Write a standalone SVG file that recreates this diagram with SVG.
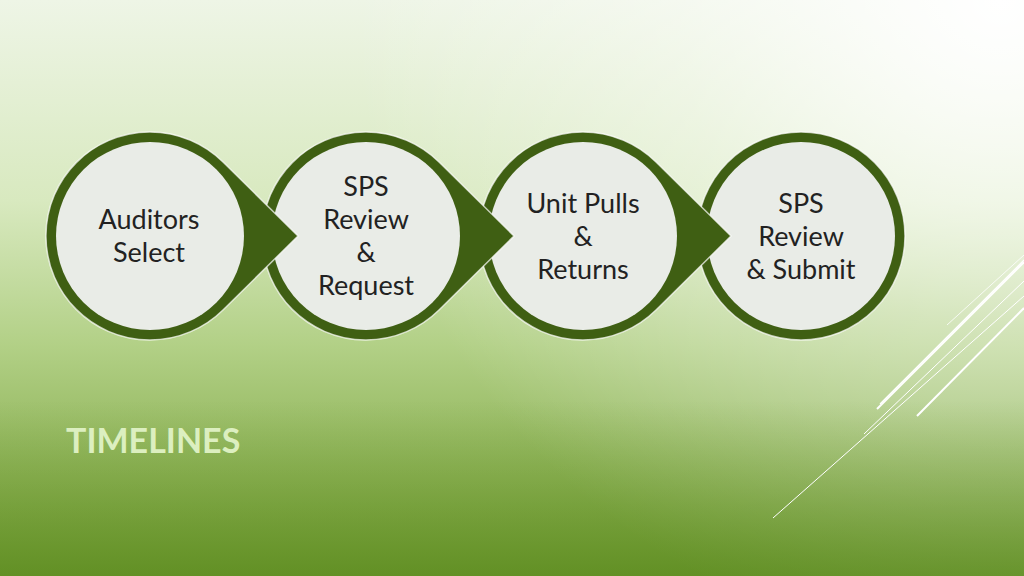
<svg xmlns="http://www.w3.org/2000/svg" width="1024" height="576" viewBox="0 0 1024 576">
<defs>
<linearGradient id="bg" x1="0" y1="0" x2="0" y2="1">
<stop offset="0" stop-color="#eef5e6"/>
<stop offset="0.35" stop-color="#d8e9bf"/>
<stop offset="0.6" stop-color="#b2d086"/>
<stop offset="1" stop-color="#6f9a30"/>
</linearGradient>
<radialGradient id="hl" cx="1000" cy="0" r="650" gradientUnits="userSpaceOnUse">
<stop offset="0" stop-color="#ffffff" stop-opacity="1"/>
<stop offset="0.5" stop-color="#ffffff" stop-opacity="0.4"/>
<stop offset="1" stop-color="#ffffff" stop-opacity="0"/>
</radialGradient>
<linearGradient id="bot" x1="0" y1="0" x2="0" y2="1">
<stop offset="0" stop-color="#6f9a30" stop-opacity="0"/>
<stop offset="1" stop-color="#5a8a1e" stop-opacity="0.6"/>
</linearGradient>
</defs>
<style>
.outer{fill:#3f5f13;stroke:#ffffff;stroke-width:1.5;stroke-opacity:0.7}
.inner{fill:#e9ece7}
.t{font-family:"Lato","Liberation Sans",sans-serif;font-size:27px;fill:#222;text-anchor:middle}
.ln{stroke:#ffffff;fill:none}
</style>
<rect width="1024" height="576" fill="url(#bg)"/>
<rect width="1024" height="576" fill="url(#hl)"/>
<rect y="400" width="1024" height="176" fill="url(#bot)"/>
<g id="deco">
<line class="ln" x1="773" y1="518" x2="1024" y2="296" stroke-width="1" stroke="#eef8d0"/>
<line class="ln" x1="877" y1="409" x2="1024" y2="262" stroke-width="2"/>
<line class="ln" x1="880" y1="404" x2="1024" y2="260" stroke-width="1.2"/>
<line class="ln" x1="864" y1="434" x2="1024" y2="281" stroke-width="1"/>
<line class="ln" x1="917" y1="416" x2="1024" y2="308" stroke-width="2"/>
<line class="ln" x1="947" y1="325" x2="1024" y2="255" stroke-width="0.8"/>
</g>
<g id="connectors"></g>
<g id="node4">
<circle class="outer" cx="801" cy="236" r="104"/>
<circle class="inner" cx="801" cy="236" r="94"/>
<text class="t" x="801" y="213">SPS</text>
<text class="t" x="801" y="246">Review</text>
<text class="t" x="801" y="279">&amp; Submit</text>
</g>
<g id="node3">
<path class="outer" d="M656,162 L731,236 L656,310 A104,104 0 1 1 656,162 Z"/>
<circle class="inner" cx="583" cy="236" r="94"/>
<text class="t" x="583" y="213">Unit Pulls</text>
<text class="t" x="583" y="246">&amp;</text>
<text class="t" x="583" y="279">Returns</text>
</g>
<g id="node2">
<path class="outer" d="M439,162 L514,236 L439,310 A104,104 0 1 1 439,162 Z"/>
<circle class="inner" cx="366" cy="236" r="94"/>
<text class="t" x="366" y="196">SPS</text>
<text class="t" x="366" y="229">Review</text>
<text class="t" x="366" y="262">&amp;</text>
<text class="t" x="366" y="295">Request</text>
</g>
<g id="node1">
<path class="outer" d="M223,162 L298,236 L223,310 A104,104 0 1 1 223,162 Z"/>
<circle class="inner" cx="150" cy="236" r="94"/>
<text class="t" x="149" y="229">Auditors</text>
<text class="t" x="149" y="262">Select</text>
</g>
<text x="66" y="453" font-family="Lato,'Liberation Sans',sans-serif" font-weight="bold" font-size="34" fill="#dcefc0">TIMELINES</text>
</svg>
